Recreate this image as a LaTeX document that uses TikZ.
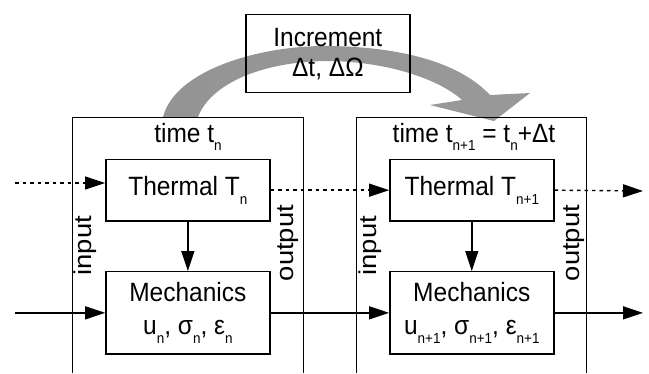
\documentclass[tikz,border=0pt]{standalone}
\usepackage{fontspec}
\setmainfont{Liberation Sans}
\usetikzlibrary{arrows.meta}
\newcommand\sbs[1]{\raisebox{-8pt}{\fontsize{13.5}{13.5}\selectfont #1}}
\newcommand\vs[1]{\scalebox{1}[1.08]{#1}}
\newcommand\hs[1]{\scalebox{1.12}[1]{#1}}
\tikzset{
  blk/.style={draw, line width=1.4pt, minimum width=164pt, inner sep=0pt, align=center, font=\fontsize{24.5}{33}\selectfont},
  frame/.style={draw, line width=1.4pt},
  lbl/.style={font=\fontsize{24.5}{27}\selectfont, inner sep=0pt},
  flow/.style={line width=1.4pt, -{Triangle[length=20pt,width=13pt]}},
  dflow/.style={flow, dash pattern=on 3.5pt off 4pt},
}
\begin{document}
\begin{tikzpicture}[x=1pt,y=-1pt]
\useasboundingbox (0,0) rectangle (649,373);
% curved gray arrow
\path[left color=black!42, middle color=black!20, right color=black!40]
  (163,117) .. controls (175,70) and (260,45) .. (330,46)
  .. controls (390,47) and (455,58) .. (490,95)
  -- (530,93) -- (494,121) -- (430,105) -- (462,100)
  .. controls (440,80) and (390,62) .. (330,61)
  .. controls (260,61) and (210,85) .. (198,117) -- cycle;
% increment box
\node[frame, minimum width=164pt, minimum height=78pt, inner sep=0pt] (inc) at (327.85,53.7) {};
\node[lbl] (inct) at (327.85,38) {\vs{Increment}};
\node[lbl] (incd) at (327.85,69) {\vs{Δt, ΔΩ}};
% outer frames
\coordinate (a1) at (72.7,373); \coordinate (a2) at (72.7,117.3);
\coordinate (a3) at (303.3,117.3); \coordinate (a4) at (303.3,373);
\draw[frame] (a1) -- (a2) -- (a3) -- (a4);
\coordinate (b1) at (356.5,373); \coordinate (b2) at (356.5,117.3);
\coordinate (b3) at (586.7,117.3); \coordinate (b4) at (586.7,373);
\draw[frame] (b1) -- (b2) -- (b3) -- (b4);
% titles
\node[lbl, anchor=base] (tt1) at (188,142) {\vs{time t\sbs{n}}};
\node[lbl, anchor=base] (tt2) at (474,142) {\vs{time t\sbs{n+1} = t\sbs{n}+Δt}};
% inner blocks
\node[blk, minimum height=61.7pt] (th1) at (187.85,190.15) {\vs{Thermal T\sbs{n}}};
\node[blk, minimum height=82.3pt] (me1) at (187.85,312.85) {\vs{Mechanics}\\\vs{u\sbs{n}, σ\sbs{n}, ε\sbs{n}}};
\node[blk, minimum height=61.7pt] (th2) at (471.8,190.15) {\vs{Thermal T\sbs{n+1}}};
\node[blk, minimum height=82.3pt] (me2) at (471.8,312.85) {\vs{Mechanics}\\\vs{u\sbs{n+1}, σ\sbs{n+1}, ε\sbs{n+1}}};
% side labels
\node[lbl, rotate=90] (in1) at (85,245.6) {\hs{input}};
\node[lbl, rotate=90] (out1) at (288,243) {\hs{output}};
\node[lbl, rotate=90] (in2) at (370.5,245.6) {\hs{input}};
\node[lbl, rotate=90] (out2) at (574,243) {\hs{output}};
% connectors
\coordinate (inT) at (15,183);
\coordinate (outT) at (643,191);
\coordinate (inM) at (15,312.85);
\coordinate (outM) at (643,312.85);
\draw[dflow] (inT) -- (inT -| th1.west);
\draw[dflow] (th1.east) -- (th2.west);
\draw[dflow] (th2.east) -- (outT);
\draw[flow] (inM) -- (me1.west);
\draw[flow] (me1.east) -- (me2.west);
\draw[flow] (me2.east) -- (outM);
\draw[flow] (th1.south) -- (me1.north);
\draw[flow] (th2.south) -- (me2.north);
\end{tikzpicture}
\end{document}
